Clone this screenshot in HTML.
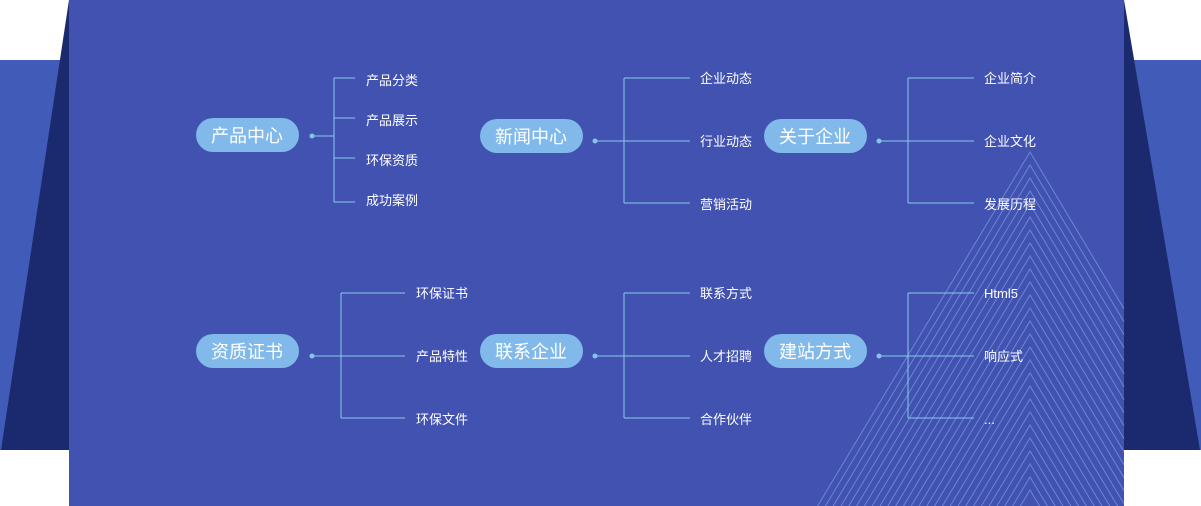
<!DOCTYPE html>
<html><head><meta charset="utf-8"><style>
html,body{margin:0;padding:0;background:#fff;width:1201px;height:506px;overflow:hidden;}
svg{display:block;}
text{font-family:"Liberation Sans","Noto Sans CJK SC",sans-serif;fill:#fff;}
</style></head><body>
<svg width="1201" height="506" viewBox="0 0 1201 506" xmlns="http://www.w3.org/2000/svg">
<rect x="0" y="60" width="1201" height="390" fill="#415bb9"/>
<polygon points="69,0 69,450 1,450" fill="#1b2a6e"/>
<polygon points="1124,0 1124,450 1200,450" fill="#1b2a6e"/>
<rect x="69" y="0" width="1055" height="506" fill="#4252b0"/>
<g fill="none" stroke="#86aeea" stroke-opacity="0.6" stroke-width="1">
<polyline points="817.6,506 1030,152 1124,308.7"/>
<polyline points="825.4,506 1030,165 1124,321.7"/>
<polyline points="833.2,506 1030,178 1124,334.7"/>
<polyline points="841,506 1030,191 1124,347.7"/>
<polyline points="848.8,506 1030,204 1124,360.7"/>
<polyline points="856.6,506 1030,217 1124,373.7"/>
<polyline points="864.4,506 1030,230 1124,386.7"/>
<polyline points="872.2,506 1030,243 1124,399.7"/>
<polyline points="880,506 1030,256 1124,412.7"/>
<polyline points="887.8,506 1030,269 1124,425.7"/>
<polyline points="895.6,506 1030,282 1124,438.7"/>
<polyline points="903.4,506 1030,295 1124,451.7"/>
<polyline points="911.2,506 1030,308 1124,464.7"/>
<polyline points="919,506 1030,321 1124,477.7"/>
<polyline points="926.8,506 1030,334 1124,490.7"/>
<polyline points="934.6,506 1030,347 1124,503.7"/>
<polyline points="942.4,506 1030,360 1117.6,506"/>
<polyline points="950.2,506 1030,373 1109.8,506"/>
<polyline points="958,506 1030,386 1102,506"/>
<polyline points="965.8,506 1030,399 1094.2,506"/>
<polyline points="973.6,506 1030,412 1086.4,506"/>
<polyline points="981.4,506 1030,425 1078.6,506"/>
<polyline points="989.2,506 1030,438 1070.8,506"/>
<polyline points="997,506 1030,451 1063,506"/>
<polyline points="1004.8,506 1030,464 1055.2,506"/>
<polyline points="1012.6,506 1030,477 1047.4,506"/>
<polyline points="1020.4,506 1030,490 1039.6,506"/>
</g>
<g stroke="#86cbea" stroke-width="1" fill="none">
<path d="M312,136H334M334,78V202M334,78H355M334,118H355M334,158H355M334,202H355"/>
<path d="M595,141H690M624,78V203M624,78H690M624,203H690"/>
<path d="M879,141H974M908,78V203M908,78H974M908,203H974"/>
<path d="M312,356H405M341,293V418M341,293H405M341,418H405"/>
<path d="M595,356H690M624,293V418M624,293H690M624,418H690"/>
<path d="M879,356H974M908,293V418M908,293H974M908,418H974"/>
</g>
<g fill="#86c3ea">
<circle cx="312" cy="136" r="2.5"/><circle cx="595" cy="141" r="2.5"/><circle cx="879" cy="141" r="2.5"/>
<circle cx="312" cy="356" r="2.5"/><circle cx="595" cy="356" r="2.5"/><circle cx="879" cy="356" r="2.5"/>
</g>
<g fill="#80b9ea">
<rect x="196" y="118" width="103" height="34" rx="17"/>
<rect x="480" y="119" width="103" height="34" rx="17"/>
<rect x="764" y="119" width="103" height="34" rx="17"/>
<rect x="196" y="334" width="103" height="34" rx="17"/>
<rect x="480" y="334" width="103" height="34" rx="17"/>
<rect x="764" y="334" width="103" height="34" rx="17"/>
</g>
<g font-size="18" text-anchor="middle">
<text x="247" y="142">产品中心</text>
<text x="531" y="143">新闻中心</text>
<text x="815" y="143">关于企业</text>
<text x="247" y="358">资质证书</text>
<text x="531" y="358">联系企业</text>
<text x="815" y="358">建站方式</text>
</g>
<g font-size="13">
<text x="366" y="85">产品分类</text>
<text x="366" y="125">产品展示</text>
<text x="366" y="165">环保资质</text>
<text x="366" y="205">成功案例</text>
<text x="700" y="83">企业动态</text>
<text x="700" y="146">行业动态</text>
<text x="700" y="209">营销活动</text>
<text x="984" y="83">企业简介</text>
<text x="984" y="146">企业文化</text>
<text x="984" y="209">发展历程</text>
<text x="416" y="298">环保证书</text>
<text x="416" y="361">产品特性</text>
<text x="416" y="424">环保文件</text>
<text x="700" y="298">联系方式</text>
<text x="700" y="361">人才招聘</text>
<text x="700" y="424">合作伙伴</text>
<text x="984" y="298">Html5</text>
<text x="984" y="361">响应式</text>
<text x="984" y="424">...</text>
</g>
</svg>
</body></html>
